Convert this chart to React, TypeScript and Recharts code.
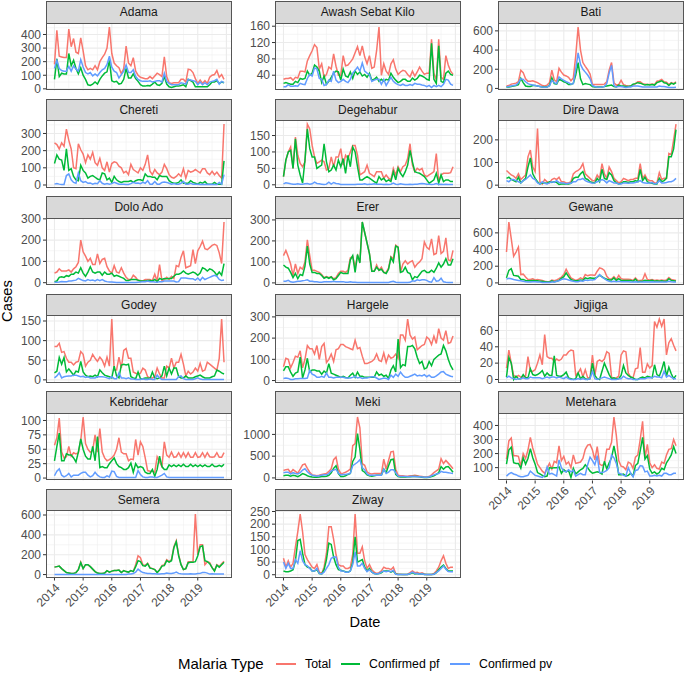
import React from "react";
import { LineChart, Line, XAxis, YAxis, ReferenceLine } from "recharts";

const years = ["2014", "2015", "2016", "2017", "2018", "2019"];
const yearTicks = [0, 12, 24, 36, 48, 60];
const minorX = [6, 18, 30, 42, 54, 66];
const majorX = [0, 12, 24, 36, 48, 60, 72];

const adamaTotal = [180,430,240,235,230,230,440,310,370,270,260,375, 280,170,140,150,140,170,140,200,230,255,300,455, 260,190,170,155,110,150,315,190,170,230,130,100, 85,80,75,75,90,75,95,115,105,90,235,90, 45,40,45,45,45,70,70,50,145,140,120,75, 40,65,40,60,40,85,100,105,135,85,105,70];
const adamaPf = [70,220,90,115,110,110,260,170,210,150,110,155, 100,70,30,25,35,50,35,70,95,115,125,210, 60,50,55,35,40,70,150,80,80,110,75,55, 30,20,20,25,22,35,50,30,25,40,90,35, 15,10,15,20,20,25,30,15,70,60,50,15, 15,15,15,15,15,30,50,50,60,40,50,45];
const adamaPv = [150,210,150,135,130,130,165,130,170,145,130,215, 160,120,110,120,95,110,95,120,140,150,180,240, 160,130,120,80,105,130,175,120,120,140,90,70, 60,55,55,55,60,50,55,60,60,50,115,55, 40,30,30,30,30,45,40,35,70,65,60,55, 30,50,30,45,30,50,55,60,70,35,55,45];

const awashTotal = [30,32,32,34,28,35,33,50,50,48,75,88, 100,115,108,55,68,35,42,60,55,92,62,40, 40,88,63,65,72,80,95,110,88,112,85,68, 88,57,60,100,158,40,68,50,42,68,78,55, 42,48,52,50,42,36,50,38,48,60,50,42, 45,45,128,45,28,128,35,30,88,65,50,42];
const awashPf = [20,22,20,18,18,25,22,32,30,32,50,40, 45,65,60,50,22,38,18,25,35,45,50,48, 28,55,38,35,48,32,50,42,48,38,42,35, 45,28,30,35,25,30,25,30,28,45,35,28, 22,25,30,30,25,25,33,28,32,40,38,35, 30,28,118,30,20,112,25,22,45,50,42,40];
const awashPv = [12,12,17,13,13,14,13,20,18,17,32,42, 38,58,55,32,30,15,17,28,25,50,28,22, 25,30,25,22,30,45,52,60,50,70,50,45, 42,25,28,30,30,18,30,15,25,35,25,20, 17,15,18,15,15,17,15,20,18,18,16,15, 12,15,10,15,12,15,12,18,30,28,18,15];

const batiTotal = [25,30,45,50,55,70,190,165,100,75,75,80, 70,60,45,30,25,35,60,190,90,70,210,170, 140,130,115,80,110,340,640,400,270,230,195,150, 45,40,40,40,40,45,70,190,270,60,35,40, 85,40,30,25,25,35,50,70,70,50,45,40, 40,45,40,75,80,95,70,65,40,60,50,70];
const batiPf = [15,15,20,25,30,40,105,60,25,20,20,30, 30,25,20,15,15,15,30,110,50,45,95,85, 70,60,40,40,55,140,270,100,40,50,45,40, 20,15,15,15,15,20,25,30,35,20,15,35, 25,25,20,20,25,45,50,60,55,45,35,40, 35,40,35,60,70,80,60,55,30,55,45,60];
const batiPv = [15,20,25,30,35,60,100,95,70,50,40,35, 30,25,20,15,12,15,25,85,60,50,120,100, 85,70,60,45,50,200,370,250,200,170,140,100, 30,20,15,12,15,20,50,160,240,30,15,20, 20,15,10,15,15,25,25,25,20,15,15,15, 15,15,15,15,25,20,20,15,10,10,10,12];

const cheretiTotal = [245,235,210,245,225,325,260,210,100,95,240,205, 180,130,175,150,190,130,115,155,100,85,135,75, 125,135,130,110,100,70,80,60,120,90,80,70, 100,85,120,175,80,60,90,70,60,75,120,95, 60,45,40,50,65,50,95,40,85,75,80,90, 80,70,95,95,70,60,80,60,75,55,40,355];
const cheretiPf = [125,175,150,145,85,210,85,95,50,30,25,115, 85,70,40,50,55,45,35,30,70,65,30,40, 15,50,30,20,15,20,20,20,25,15,25,30, 30,25,65,50,50,45,45,30,55,50,50,50, 25,15,10,10,15,30,10,10,10,25,15,10, 5,15,10,20,5,5,5,15,5,5,5,140];
const cheretiPv = [5,8,5,3,3,55,65,30,15,10,70,25, 15,20,10,12,5,10,8,25,10,5,8,5, 8,15,10,5,5,5,3,3,8,15,10,12, 8,15,10,25,5,5,20,5,5,15,18,15, 10,5,8,5,5,10,20,5,5,10,5,5, 5,3,5,3,5,3,5,3,3,15,5,60];

const degehaburTotal = [25,75,100,115,50,145,90,65,55,70,185,170, 120,85,65,70,75,70,45,50,85,55,85,85, 110,60,90,80,100,120,120,90,30,35,40,60, 35,30,25,40,40,40,20,30,20,15,50,30, 55,40,55,60,80,125,60,40,50,45,50,30, 25,30,35,40,95,10,30,35,35,35,37,55];
const degehaburPf = [25,75,100,105,50,140,60,30,5,75,170,110, 85,85,50,55,60,125,70,40,45,60,45,75, 55,80,35,90,55,115,100,55,15,15,20,25, 20,15,10,5,25,15,20,10,15,10,40,15, 50,35,25,40,60,105,70,40,37,35,30,25, 15,5,10,15,35,5,30,10,15,15,10,10];
const degehaburPv = [3,6,5,3,2,2,3,2,2,3,4,2, 3,8,4,3,2,1,2,8,2,7,4,3, 1,1,1,1,1,1,1,2,2,2,3,1, 2,2,3,2,2,2,1,2,1,2,5,2, 1,3,2,1,1,2,1,2,2,3,4,3, 2,2,1,2,4,1,2,1,2,1,1,1];

const direTotal = [65,55,45,40,30,50,25,35,45,125,155,80, 60,250,15,5,25,15,10,25,30,25,35,15, 15,10,10,15,50,60,65,75,95,50,40,30, 20,20,45,30,95,50,30,80,60,30,20,10, 15,30,25,20,25,25,30,30,95,30,45,25, 20,20,10,10,55,25,30,30,140,135,200,270];
const direPf = [30,35,25,20,15,35,10,20,30,80,120,50, 30,15,5,10,10,8,15,12,15,12,3,5, 5,5,5,8,30,35,35,50,60,30,25,15, 12,10,30,15,70,30,25,55,45,20,10,5, 8,15,15,12,15,15,20,15,70,20,35,15, 10,8,5,5,30,15,20,30,125,125,160,245];
const direPv = [20,15,25,25,20,15,10,20,25,35,45,30, 25,10,5,15,8,5,10,15,12,20,12,10, 10,5,8,8,15,15,25,25,30,20,15,12, 8,10,15,18,25,20,10,20,15,10,10,5, 5,10,10,8,10,10,12,15,20,12,10,8, 10,12,5,8,20,10,10,12,15,15,20,30];

const doloTotal = [45,50,65,55,55,55,60,50,65,75,95,200, 145,125,100,115,85,85,135,90,110,115,75,55, 45,80,50,45,70,45,25,15,15,35,25,10, 10,8,15,15,15,10,40,8,85,10,15,25, 15,30,20,80,75,120,150,70,75,80,155,90, 150,170,195,160,155,165,175,180,175,140,90,285];
const doloPf = [5,8,25,28,25,33,30,40,40,50,45,70, 45,30,50,75,50,45,50,50,35,50,40,40, 45,30,35,30,25,20,10,10,15,15,15,12, 8,8,8,10,10,8,15,5,20,15,20,18, 20,20,30,40,40,45,55,45,40,45,50,45, 35,45,70,65,55,65,60,50,35,50,35,90];
const doloPv = [2,2,3,5,4,4,8,8,10,12,20,15, 10,8,15,10,12,8,15,10,15,8,5,3, 3,2,1,1,1,1,1,1,1,1,1,2, 3,5,5,8,5,5,3,2,5,5,8,8, 8,8,8,3,5,22,22,22,20,18,18,12, 22,10,25,15,20,25,30,35,30,15,10,13];

const godeyTotal = [85,85,93,70,72,55,45,45,38,45,47,72, 65,35,45,50,65,55,47,58,50,35,58,35, 155,25,25,58,30,75,80,55,55,20,17,15, 17,30,25,8,5,5,8,30,15,5,5,35, 30,55,30,45,45,65,40,10,22,15,20,30, 22,42,22,25,45,40,35,30,25,55,155,45];
const godeyPf = [18,22,57,40,57,20,28,20,12,22,20,47, 20,12,8,10,8,12,8,25,18,12,10,8, 5,35,10,5,38,40,38,40,8,5,3,20, 3,3,5,5,3,20,5,3,5,10,35,10, 30,15,30,30,8,5,5,10,5,5,5,8, 10,12,8,5,5,5,8,10,25,22,18,15];
const godeyPv = [5,10,18,5,8,9,10,10,12,12,10,8, 9,6,8,5,5,5,8,8,8,7,5,3, 8,3,3,18,5,5,3,5,2,2,1,1, 1,3,1,1,3,1,1,12,5,1,1,1, 1,1,1,1,8,10,3,1,1,1,1,3, 5,2,1,1,1,1,1,1,1,1,1,1];

const ererTotal = [130,155,125,90,35,90,45,75,65,100,205,130, 60,60,55,50,40,25,30,25,30,20,25,45, 55,55,50,60,120,125,75,130,100,290,240,190, 140,55,55,85,60,75,50,50,70,125,115,180, 170,50,90,105,90,100,105,75,90,100,115,195, 170,160,210,135,140,225,140,150,215,110,105,155];
const ererPf = [85,75,70,50,25,45,20,40,35,80,175,90, 50,50,45,45,35,22,28,22,28,15,20,35, 50,45,45,45,110,130,50,135,95,290,240,190, 140,55,55,75,60,65,50,45,65,120,100,175, 170,50,55,75,50,45,15,30,25,40,55,60, 50,50,60,50,70,95,75,90,115,85,85,115];
const ererPv = [8,8,12,5,3,5,8,8,10,12,15,8, 8,5,5,3,3,5,5,5,5,8,5,5, 5,6,3,3,5,3,3,2,2,2,2,2, 2,2,2,2,2,2,2,2,2,5,8,3, 2,2,2,2,2,3,10,8,15,12,15,15, 12,5,3,25,8,10,22,5,3,2,2,2];

const hargeleTotal = [65,105,100,60,85,115,110,140,60,100,165,150, 150,125,165,100,160,175,85,100,125,90,145,150, 170,170,160,155,150,145,190,150,155,115,80,80, 85,90,100,125,95,90,130,85,120,105,110,125, 105,215,215,190,290,215,195,205,145,155,165,170, 205,195,170,210,175,245,200,190,235,175,180,210];
const hargelePf = [45,65,65,40,20,35,40,110,12,50,105,40, 50,50,45,45,30,45,35,80,35,30,25,20, 15,20,15,12,25,35,15,40,20,20,15,15, 15,15,15,40,25,30,20,25,10,50,70,40, 195,60,75,70,160,160,165,150,110,80,90,55, 60,90,70,100,110,120,125,165,140,100,70,50];
const hargelePv = [10,12,10,5,5,8,8,10,10,10,12,48, 30,25,15,15,20,15,35,15,15,12,15,15, 15,15,12,12,12,15,20,12,15,10,12,12, 15,18,18,12,5,8,12,10,5,25,15,30, 20,40,25,15,15,20,25,30,22,25,22,28, 18,25,15,15,22,30,40,42,30,25,20,18];

const gewaneTotal = [370,730,530,320,370,430,100,105,70,40,40,50, 35,40,35,30,20,15,15,35,25,35,50,70, 100,165,110,60,45,30,40,60,45,100,85,95, 95,90,140,180,170,150,80,50,45,75,40,90, 50,45,45,45,40,30,60,30,30,35,110,40, 35,40,30,35,30,35,30,35,65,40,35,30];
const gewanePf = [60,150,170,90,85,80,40,40,30,25,25,30, 25,25,20,20,15,10,10,25,15,20,30,55, 75,120,75,40,30,25,25,35,30,60,50,60, 55,55,70,90,75,55,45,35,35,60,30,50, 30,30,30,30,30,20,45,15,20,20,30,25, 25,30,20,25,20,25,20,20,50,30,25,20];
const gewanePv = [45,55,50,40,35,30,25,20,15,10,10,15, 15,10,10,5,5,5,5,10,10,20,25,40, 50,45,35,25,20,15,15,25,20,35,30,35, 35,40,70,100,70,50,30,20,15,20,15,20, 15,15,15,15,12,10,15,10,10,12,15,12, 12,15,10,12,12,12,10,12,20,15,12,10];

const jigjigaTotal = [14,36,20,5,3,5,3,3,4,28,10,10, 12,20,30,18,55,28,26,26,22,25,23,25, 30,30,34,36,35,5,8,13,3,12,2,2, 30,5,22,24,22,25,34,32,3,1,2,4, 30,35,34,8,3,2,13,14,39,9,9,19, 14,17,71,64,74,65,74,30,45,50,42,35];
const jigjigaPf = [3,27,20,0,4,1,1,6,2,2,13,6, 5,6,8,11,4,8,5,5,29,5,4,4, 6,9,2,1,0,1,8,1,4,1,0,1, 20,5,1,0,10,20,13,6,1,2,1,1, 5,17,8,5,3,2,0,0,2,3,2,4, 3,2,18,6,4,12,22,4,15,7,1,5];
const jigjigaPv = [2,4,2,1,0,1,1,2,1,1,3,2, 2,2,2,1,2,3,2,3,3,2,3,2, 1,3,1,0,0,0,1,0,1,0,0,1, 10,1,0,1,2,3,2,1,0,0,0,1, 1,4,2,1,1,0,0,0,1,1,1,2, 2,2,4,3,3,2,10,3,5,3,1,1];

const kebriTotal = [57,70,104,45,35,37,55,38,44,42,44,65, 106,60,50,45,48,75,45,86,45,35,30,32, 35,40,50,70,45,42,42,30,33,32,67,40, 63,55,35,13,12,12,10,37,28,20,63,40, 36,45,36,37,44,36,44,36,44,36,36,44, 36,37,44,36,44,37,36,37,44,36,36,44];
const kebriPf = [30,55,78,30,30,42,40,40,35,28,45,68, 50,38,33,33,55,30,72,18,20,18,18,25, 30,35,25,20,18,15,15,18,26,10,25,18, 20,18,10,8,8,15,3,15,38,20,15,15, 23,20,23,20,23,20,24,20,20,24,20,23, 20,23,20,23,20,20,24,20,20,22,20,24];
const kebriPv = [4,12,16,5,2,4,8,2,5,5,5,8, 10,10,5,2,4,10,5,2,1,1,4,2, 12,11,3,1,1,1,1,1,1,1,1,13, 6,2,1,1,2,2,1,1,3,5,8,2, 1,1,1,1,1,1,1,1,1,1,1,1, 1,1,1,1,1,1,1,1,1,1,1,1];

const mekiTotal = [170,190,200,120,190,150,110,200,300,320,220,130, 70,60,50,60,80,90,100,150,210,420,480,200, 100,110,130,160,200,740,790,1400,1150,330,290,140, 100,90,100,100,100,100,430,200,400,600,610,200, 60,50,50,40,40,50,50,60,50,40,30,20, 20,30,70,120,160,200,440,330,400,340,280,210];
const mekiPf = [50,60,60,40,60,50,30,60,100,80,50,30, 20,15,15,20,30,30,40,60,120,220,280,100, 30,30,50,80,100,380,480,1020,650,170,130,70, 50,40,50,60,60,60,200,120,280,420,430,80, 30,20,20,20,25,25,30,35,30,25,15,10, 10,15,30,50,80,120,260,200,250,260,200,130];
const mekiPv = [120,130,130,90,120,100,90,120,180,210,140,90, 60,50,40,50,60,70,70,100,160,180,200,110, 70,80,80,90,110,280,320,360,420,230,190,90, 60,60,60,60,60,60,200,100,130,190,190,120, 40,30,30,30,25,30,30,30,25,25,20,15, 15,20,50,70,90,100,150,130,130,120,110,100];

const ziwayTotal = [65,30,55,30,45,110,170,240,170,80,60,45, 30,25,40,10,5,30,85,190,190,140,80,40, 35,35,25,25,30,80,240,85,85,110,55,25, 40,20,10,5,8,15,30,25,25,20,30,5, 2,2,1,1,2,8,15,8,10,5,8,3, 1,1,1,5,15,30,55,75,45,25,30,30];
const ziwayPf = [15,12,12,15,20,55,135,140,85,40,30,28, 15,15,20,5,3,20,60,125,120,70,40,20, 18,15,12,10,15,50,150,50,55,60,30,15, 25,10,5,3,5,8,15,15,15,10,15,3, 1,1,1,1,1,4,8,3,5,2,4,1, 1,1,1,2,8,20,30,38,25,15,15,15];
const ziwayPv = [50,25,45,25,25,60,45,95,55,40,35,25, 15,15,25,5,3,10,25,40,65,70,70,30, 15,15,10,10,15,40,90,35,35,45,25,12, 20,10,5,3,5,10,15,12,15,12,18,2, 1,1,1,1,1,5,10,5,5,2,4,1, 1,1,1,2,8,15,25,35,22,13,12,12];

const meteharaTotal = [160,290,310,185,185,180,110,200,165,225,315,240, 185,125,100,75,60,95,130,90,145,135,255,150, 180,125,140,100,190,130,135,140,165,230,260,265, 225,155,250,125,115,130,230,230,280,460,330,150, 110,105,85,140,130,95,175,190,300,430,170,265, 135,100,120,95,90,140,130,190,230,235,300,255];
const meteharaPf = [125,225,245,135,130,130,95,170,125,165,235,170, 125,65,55,45,35,40,100,95,100,100,105,60, 85,70,80,30,95,55,70,85,95,120,100,75, 60,65,70,65,55,145,90,135,170,255,170,50, 50,55,40,45,60,40,115,130,220,315,160,185, 90,60,70,55,65,95,85,135,160,190,250,200];
const meteharaPv = [40,55,65,55,50,40,35,35,40,45,75,60, 45,40,35,30,45,105,55,60,50,40,155,100, 75,70,85,70,80,40,50,60,50,50,120,175, 150,120,185,65,65,70,80,100,190,170,130,60, 55,45,40,100,60,35,80,85,115,110,70,75, 40,40,45,40,45,40,60,60,50,50,60,60];

const semeraTotal = [75,80,85,60,40,20,15,10,12,20,50,125, 60,100,100,80,55,30,15,12,10,15,40,25, 35,40,40,45,20,40,30,25,40,30,100,190, 170,100,90,115,70,60,50,20,50,90,100,150, 130,150,280,340,200,100,50,60,130,130,130,610, 200,300,300,100,130,120,70,40,100,80,110,135];
const semeraPf = [75,80,85,60,40,20,15,10,12,20,50,120, 60,100,100,80,55,30,15,12,10,15,40,25, 35,40,40,45,20,40,30,25,40,30,80,140, 130,90,85,110,65,60,50,20,45,85,90,140, 125,140,270,330,190,100,50,60,120,125,125,130, 190,280,290,140,130,110,70,35,95,75,100,125];
const semeraPv = [2,2,2,1,1,1,1,1,1,1,1,1, 1,1,1,1,1,1,1,1,1,1,1,1, 1,1,1,1,1,1,1,5,5,10,25,55, 35,20,15,12,10,8,8,5,5,8,8,15, 10,10,15,25,12,8,5,5,5,8,5,5, 10,12,20,22,15,5,8,5,5,5,5,5];

const panels = [
  { name: "Adama", col: 0, row: 0, ticks: [0,100,200,300,400], total: adamaTotal, pf: adamaPf, pv: adamaPv },
  { name: "Awash Sebat Kilo", col: 1, row: 0, ticks: [40,80,120,160], total: awashTotal, pf: awashPf, pv: awashPv },
  { name: "Bati", col: 2, row: 0, ticks: [0,200,400,600], total: batiTotal, pf: batiPf, pv: batiPv },
  { name: "Chereti", col: 0, row: 1, ticks: [0,100,200,300], total: cheretiTotal, pf: cheretiPf, pv: cheretiPv },
  { name: "Degehabur", col: 1, row: 1, ticks: [0,50,100,150], total: degehaburTotal, pf: degehaburPf, pv: degehaburPv },
  { name: "Dire Dawa", col: 2, row: 1, ticks: [0,100,200], total: direTotal, pf: direPf, pv: direPv },
  { name: "Dolo Ado", col: 0, row: 2, ticks: [0,100,200,300], total: doloTotal, pf: doloPf, pv: doloPv },
  { name: "Erer", col: 1, row: 2, ticks: [0,100,200,300], total: ererTotal, pf: ererPf, pv: ererPv },
  { name: "Gewane", col: 2, row: 2, ticks: [0,200,400,600], total: gewaneTotal, pf: gewanePf, pv: gewanePv },
  { name: "Godey", col: 0, row: 3, ticks: [0,50,100,150], total: godeyTotal, pf: godeyPf, pv: godeyPv },
  { name: "Hargele", col: 1, row: 3, ticks: [0,100,200,300], total: hargeleTotal, pf: hargelePf, pv: hargelePv },
  { name: "Jigjiga", col: 2, row: 3, ticks: [0,20,40,60], total: jigjigaTotal, pf: jigjigaPf, pv: jigjigaPv },
  { name: "Kebridehar", col: 0, row: 4, ticks: [0,25,50,75,100], total: kebriTotal, pf: kebriPf, pv: kebriPv },
  { name: "Meki", col: 1, row: 4, ticks: [0,500,1000], total: mekiTotal, pf: mekiPf, pv: mekiPv },
  { name: "Metehara", col: 2, row: 4, ticks: [100,200,300,400], total: meteharaTotal, pf: meteharaPf, pv: meteharaPv, xAxis: true },
  { name: "Semera", col: 0, row: 5, ticks: [0,200,400,600], total: semeraTotal, pf: semeraPf, pv: semeraPv, xAxis: true },
  { name: "Ziway", col: 1, row: 5, ticks: [0,50,100,150,200,250], total: ziwayTotal, pf: ziwayPf, pv: ziwayPv, xAxis: true },
];

const RED = "#F8766D";
const GREEN = "#00BA38";
const BLUE = "#619CFF";
const FONT = "'Liberation Sans', Arial, sans-serif";
const colX = [45.5, 274.5, 497.5];
const PW = 186.5;
const AXW = 42;
const STRIP_H = 22.5;
const PLOT_H = 66.5;
const PAD = 8;

function Panel({ p }: { p: any }) {
  const top = 1 + 97.5 * p.row;
  const left = colX[p.col];
  const rows = p.total.map((t: number, i: number) => ({ m: i, total: t, pf: p.pf[i], pv: p.pv[i] }));
  const all = [...p.total, ...p.pf, ...p.pv];
  const lo = Math.min(...all);
  const hi = Math.max(...all);
  const pad = (hi - lo) * 0.05;
  const dom: [number, number] = [lo - pad, hi + pad];
  const step = p.ticks[1] - p.ticks[0];
  const minorY: number[] = [];
  for (let i = -1; i < p.ticks.length; i++) {
    const v = p.ticks[0] + step * (i + 0.5);
    if (v > dom[0] && v < dom[1]) minorY.push(v);
  }
  const extH = p.xAxis ? 45 : 0;
  const bottom = p.xAxis ? 0 : PAD;
  return (
    <>
      <div style={{ position: "absolute", left, top, width: PW, height: STRIP_H, boxSizing: "border-box", background: "#d9d9d9", border: "1px solid #555", textAlign: "center", fontSize: 12, lineHeight: `${STRIP_H - 2}px`, color: "#1a1a1a", fontFamily: FONT }}>{p.name}</div>
      <div style={{ position: "absolute", left: left - AXW, top: top + STRIP_H - PAD }}>
        <LineChart width={PW + AXW} height={PLOT_H + extH + PAD + bottom} data={rows} margin={{ top: PAD, right: 0, bottom, left: 0 }}>
          <XAxis dataKey="m" type="number" domain={[-3.55, 74.55]} allowDataOverflow ticks={p.xAxis ? yearTicks : []} interval={0} hide={!p.xAxis} height={extH} axisLine={false} tickLine={{ stroke: "#333" }} tickSize={3} angle={-45} textAnchor="end" tickFormatter={(m: number) => years[m / 12]} tick={{ fill: "#4d4d4d", fontSize: 12, fontFamily: FONT }} />
          <YAxis type="number" domain={dom} allowDataOverflow ticks={p.ticks} interval={0} width={AXW} axisLine={false} tickLine={{ stroke: "#333" }} tickSize={3} tickMargin={2} tick={{ fill: "#4d4d4d", fontSize: 12, fontFamily: FONT }} />
          {minorX.map((x) => <ReferenceLine key={`vm${x}`} x={x} stroke="#f0f0f0" strokeWidth={0.6} />)}
          {minorY.map((y) => <ReferenceLine key={`hm${y}`} y={y} stroke="#f0f0f0" strokeWidth={0.6} />)}
          {majorX.map((x) => <ReferenceLine key={`vM${x}`} x={x} stroke="#ebebeb" strokeWidth={1.1} />)}
          {p.ticks.map((y: number) => <ReferenceLine key={`hM${y}`} y={y} stroke="#ebebeb" strokeWidth={1.1} />)}
          <Line dataKey="total" stroke={RED} strokeWidth={1.5} dot={false} isAnimationActive={false} />
          <Line dataKey="pf" stroke={GREEN} strokeWidth={1.5} dot={false} isAnimationActive={false} />
          <Line dataKey="pv" stroke={BLUE} strokeWidth={1.5} dot={false} isAnimationActive={false} />
        </LineChart>
      </div>
      <div style={{ position: "absolute", left, top: top + STRIP_H - 1, width: PW, height: PLOT_H + 1, boxSizing: "border-box", border: "1px solid #555", pointerEvents: "none" }} />
    </>
  );
}

const legendItems = [
  { label: "Total", color: RED, x: 276, tx: 305 },
  { label: "Confirmed pf", color: GREEN, x: 340.5, tx: 369 },
  { label: "Confirmed pv", color: BLUE, x: 450, tx: 479 },
];

export default function App() {
  return (
    <div style={{ position: "fixed", left: 0, top: 0, width: 685, height: 673, background: "#fff", overflow: "hidden", fontFamily: FONT }}>
      {panels.map((p) => <Panel key={p.name} p={p} />)}
      <div style={{ position: "absolute", left: 0, width: 365 * 2, top: 613, textAlign: "center", fontSize: 14.6, lineHeight: "18px", color: "#000" }}>Date</div>
      <div style={{ position: "absolute", left: 7, top: 301, width: 0, height: 0 }}>
        <div style={{ position: "absolute", left: -40, top: -9, width: 80, textAlign: "center", fontSize: 14.8, lineHeight: "18px", transform: "rotate(-90deg)", color: "#000" }}>Cases</div>
      </div>
      <div style={{ position: "absolute", left: 178, top: 655, fontSize: 15, lineHeight: "18px", color: "#000" }}>Malaria Type</div>
      {legendItems.map((l) => (
        <React.Fragment key={l.label}>
          <div style={{ position: "absolute", left: l.x, top: 663, width: 19.5, height: 1.5, background: l.color }} />
          <div style={{ position: "absolute", left: l.tx, top: 656, fontSize: 12.3, lineHeight: "16px", color: "#000" }}>{l.label}</div>
        </React.Fragment>
      ))}
    </div>
  );
}
